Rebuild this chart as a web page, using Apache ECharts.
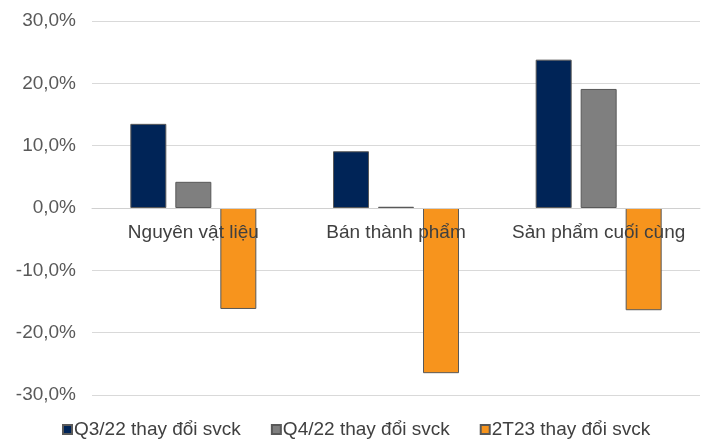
<!DOCTYPE html>
<html>
<head>
<meta charset="utf-8">
<script src="https://cdn.jsdelivr.net/npm/echarts@6/dist/echarts.min.js"></script>
<style>
  html, body { margin: 0; padding: 0; background: #fff; }
  #main { width: 704px; height: 444px; }
</style>
</head>
<body>
<div id="main"></div>
<script>
// du lieu
var categories = ['Nguyên vật liệu', 'Bán thành phẩm', 'Sản phẩm cuối cùng'];
var seriesNames = ['Q3/22 thay đổi svck', 'Q4/22 thay đổi svck', '2T23 thay đổi svck'];
var q3Values = [13.5, 9.1, 23.8];
var q4Values = [4.2, 0.2, 19.1];
var t2Values = [-16.2, -26.5, -16.4];
var colors = ['#002457', '#7f7f7f', '#f7941d'];

var myChart = echarts.init(document.getElementById('main'));

function makeSeries(name, data, color) {
    return {
        name: name,
        type: 'bar',
        data: data,
        barWidth: 36,
        barGap: '25%',
        z: 2,
        itemStyle: {
            color: color,
            borderColor: '#595959',
            borderWidth: 1
        }
    };
}

var option = {
    animation: false,
    textStyle: { fontFamily: 'Liberation Sans, Arial, sans-serif' },
    grid: { left: 92, right: 4, top: 21, bottom: 49 },
    legend: {
        bottom: 0,
        left: 57,
        icon: 'rect',
        itemWidth: 9,
        itemHeight: 9,
        itemGap: 30,
        textStyle: { fontSize: 19, color: '#404040', padding: [0, 0, 0, -3] },
        data: seriesNames
    },
    xAxis: {
        type: 'category',
        data: categories,
        offset: -187,
        z: 5,
        axisLine: { onZero: false, lineStyle: { color: '#d0d0d0', width: 1 } },
        axisTick: { show: false },
        axisLabel: { fontSize: 19, color: '#404040', margin: 15, interval: 0, hideOverlap: false }
    },
    yAxis: {
        type: 'value',
        min: -30,
        max: 30,
        interval: 10,
        axisLine: { show: false },
        axisTick: { show: false },
        splitLine: { lineStyle: { color: '#d9d9d9', width: 1 } },
        axisLabel: {
            fontSize: 19,
            color: '#595959',
            margin: 16,
            formatter: function (v) { return v.toFixed(1).replace('.', ',') + '%'; }
        }
    },
    series: [
        makeSeries(seriesNames[0], q3Values, colors[0]),
        makeSeries(seriesNames[1], q4Values, colors[1]),
        makeSeries(seriesNames[2], t2Values, colors[2])
    ]
};

myChart.setOption(option);
</script>
</body>
</html>
